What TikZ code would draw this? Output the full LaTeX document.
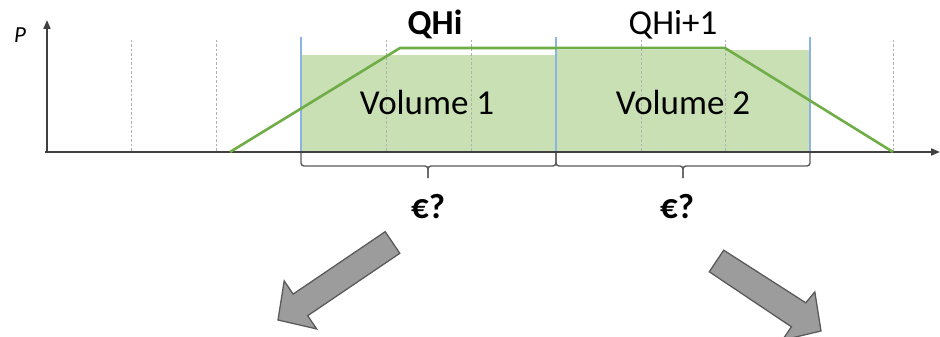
\documentclass[tikz,border=0pt]{standalone}
\usepackage{fontspec}
\setmainfont{Carlito}
\usetikzlibrary{arrows.meta}
\definecolor{axisgray}{HTML}{404040}
\definecolor{gridgray}{HTML}{B0B0B0}
\definecolor{volfill}{HTML}{C9DFB4}
\definecolor{pricegreen}{HTML}{70AD47}
\definecolor{bluemark}{HTML}{8DB3E2}
\definecolor{bracegray}{HTML}{595959}
\definecolor{arrowfill}{HTML}{9C9C9C}
\definecolor{arrowline}{HTML}{5A5A5A}
\tikzset{
  gridline/.style={draw=gridgray, line width=1pt, dash pattern=on 2.5pt off 2pt},
  axisline/.style={draw=axisgray, line width=2pt, -{Triangle[length=9pt,width=7pt]}},
  blueline/.style={draw=bluemark, line width=1.6pt},
  priceline/.style={draw=pricegreen, line width=2.6pt, line join=miter},
  bracestyle/.style={draw=bracegray, line width=1.4pt, rounded corners=3pt},
  bigarrow/.style={fill=arrowfill, draw=arrowline, line width=1.3pt, line join=miter},
  lbl/.style={inner sep=0pt, anchor=base, font=\fontsize{35}{40}\selectfont},
}
\begin{document}
\begin{tikzpicture}[x=1pt,y=-1pt]
\useasboundingbox (0,0) rectangle (940,337);
\clip (0,0) rectangle (940,337);
% volume blocks
\fill[volfill] (301,55) rectangle (556,152);
\fill[volfill] (556,50) rectangle (810,152);
% grid lines
\foreach \x in {131,216,386,471,641,725,893}
  \draw[gridline] (\x,40) -- (\x,152);
% blue separators
\foreach \x in {301,556,810}
  \draw[blueline] (\x,37) -- (\x,152);
% axes
\coordinate (O) at (47,152);
\coordinate (Xstart) at (45,152);
\coordinate (Ytop) at (47,20);
\coordinate (Xend) at (940,152);
\draw[axisline] (O) -- (Ytop);
\draw[axisline] (Xstart) -- (Xend);
% price line
\coordinate (g1) at (230,152);
\coordinate (g2) at (400,48);
\coordinate (g3) at (725,48);
\coordinate (g4) at (893,152);
\draw[priceline] (g1) -- (g2) -- (g3) -- (g4);
% labels
\node[font=\fontsize{23}{26}\selectfont\itshape, inner sep=0pt, anchor=base] (plabel) at (20,43) {P};
\node[lbl] (qhi) at (435,35) {\textbf{QHi}};
\node[lbl] (qhi1) at (673,35) {QHi+1};
\node[lbl] (vol1) at (427,114) {Volume 1};
\node[lbl] (vol2) at (683,114) {Volume 2};
\node[lbl] (eur1) at (428,218) {\textbf{€?}};
\node[lbl] (eur2) at (677,218) {\textbf{€?}};
% braces
\draw[bracestyle] (301,153) -- (301,166) -- (428,166) -- (428,178);
\draw[bracestyle] (428,178) -- (428,166) -- (556,166) -- (556,153);
\draw[bracestyle] (556,153) -- (556,166) -- (683,166) -- (683,178);
\draw[bracestyle] (683,178) -- (683,166) -- (810,166) -- (810,153);
% big arrows
\draw[bigarrow] (385.2,231.7) -- (399.8,253.3) -- (307.7,315.7) -- (316.6,328.9)
  -- (278,320) -- (284.2,280.9) -- (293.1,294.1) -- cycle;
\draw[bigarrow] (723.7,250.2) -- (709.3,271.8) -- (791.4,326.8) -- (782.4,340.1)
  -- (821,331) -- (814.8,291.9) -- (805.8,302.8) -- cycle;
\end{tikzpicture}
\end{document}
